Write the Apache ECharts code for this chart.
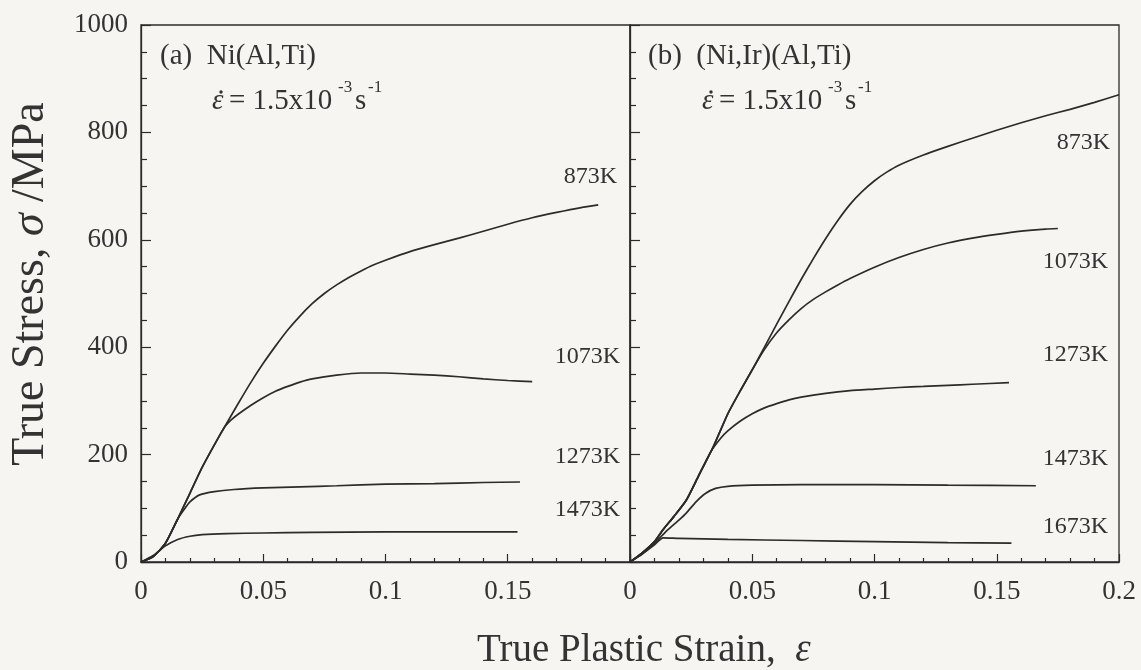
<!DOCTYPE html>
<html>
<head>
<meta charset="utf-8">
<script src="https://cdn.jsdelivr.net/npm/echarts@6/dist/echarts.min.js"></script>
<style>
  html, body { margin: 0; padding: 0; background: #f6f5f1; }
  #chart { width: 1141px; height: 670px; }
</style>
</head>
<body>
<div id="chart"></div>
<script>
// axis ticks
const strainTicks = [0, 0.05, 0.1, 0.15, 0.2]
const stressTicks = [0, 200, 400, 600, 800, 1000]

// (a) Ni(Al,Ti)  -- [strain, stress MPa]
const a873 = [[0,0],[0.005,10],[0.01,35],[0.015,80],[0.02,128],[0.025,176],[0.03,218],[0.035,258],[0.04,297],[0.045,335],[0.05,370],[0.055,402],[0.06,432],[0.065,458],[0.07,481],[0.075,500],[0.08,516],[0.085,530],[0.09,542],[0.095,553],[0.1,562],[0.11,578],[0.12,591],[0.13,603],[0.14,616],[0.15,629],[0.16,641],[0.17,651],[0.18,660],[0.187,665]]
const a1073 = [[0,0],[0.005,10],[0.01,35],[0.015,80],[0.02,128],[0.025,176],[0.03,218],[0.034,250],[0.037,265],[0.04,276],[0.045,292],[0.05,306],[0.055,318],[0.06,327],[0.065,335],[0.07,341],[0.08,348],[0.09,352],[0.1,352],[0.11,350],[0.12,348],[0.13,345],[0.14,341],[0.15,338],[0.16,336]]
const a1273 = [[0,0],[0.005,10],[0.01,35],[0.015,80],[0.018,100],[0.02,112],[0.024,125],[0.03,131],[0.038,135],[0.05,138],[0.065,140],[0.08,142],[0.1,145],[0.12,146],[0.14,148],[0.155,149]]
const a1473 = [[0,0],[0.005,12],[0.01,30],[0.015,42],[0.02,48],[0.025,51],[0.035,53],[0.05,54],[0.07,55],[0.1,56],[0.13,56],[0.154,56]]

// (b) (Ni,Ir)(Al,Ti)
const b873 = [[0,0],[0.005,17],[0.01,38],[0.0135,60],[0.018,85],[0.023,115],[0.028,160],[0.034,214],[0.04,276],[0.045,318],[0.05,358],[0.055,400],[0.06,443],[0.065,485],[0.07,526],[0.075,565],[0.08,602],[0.085,636],[0.09,666],[0.095,690],[0.1,710],[0.105,726],[0.11,739],[0.12,758],[0.13,774],[0.14,789],[0.15,804],[0.16,818],[0.17,831],[0.18,843],[0.19,856],[0.2,870]]
const b1073 = [[0,0],[0.005,17],[0.01,38],[0.0135,60],[0.018,85],[0.023,115],[0.028,160],[0.034,214],[0.04,276],[0.045,318],[0.05,358],[0.055,396],[0.06,427],[0.065,451],[0.07,472],[0.075,489],[0.08,503],[0.085,516],[0.09,528],[0.1,549],[0.11,567],[0.12,582],[0.13,594],[0.14,603],[0.15,610],[0.16,616],[0.17,620],[0.175,621]]
const b1273 = [[0,0],[0.005,17],[0.01,38],[0.0135,60],[0.018,85],[0.023,115],[0.028,160],[0.033,205],[0.037,230],[0.04,244],[0.045,262],[0.05,276],[0.055,287],[0.06,295],[0.065,302],[0.07,307],[0.08,314],[0.09,319],[0.1,322],[0.11,325],[0.12,327],[0.13,329],[0.14,331],[0.155,334]]
const b1473 = [[0,0],[0.005,15],[0.01,35],[0.015,58],[0.02,78],[0.023,91],[0.027,112],[0.031,128],[0.035,137],[0.04,141],[0.05,143],[0.07,144],[0.1,144],[0.13,143],[0.166,142]]
const b1673 = [[0,0],[0.005,15],[0.01,32],[0.0135,45],[0.02,44],[0.04,42],[0.07,40],[0.1,38],[0.13,36],[0.156,35]]

const tempsA = ['873K', '1073K', '1273K', '1473K']
const tempsB = ['873K', '1073K', '1273K', '1473K', '1673K']

const FONT = "'Liberation Serif', 'Times New Roman', serif"
const INK = '#2b2b2b'
const TXT = '#333'

const chart = echarts.init(document.getElementById('chart'))

function xAxisFor(grid, hideLast) {
  return {
    type: 'value',
    gridIndex: grid,
    min: strainTicks[0],
    max: strainTicks[strainTicks.length - 1],
    interval: strainTicks[1] - strainTicks[0],
    axisLine: { lineStyle: { color: INK, width: 1.3 } },
    axisTick: { inside: true, length: 8, lineStyle: { color: INK, width: 1.2 } },
    minorTick: { show: true, splitNumber: 5, length: 4, lineStyle: { color: INK, width: 1.2 } },
    splitLine: { show: false },
    axisLabel: {
      margin: 16,
      fontFamily: FONT,
      fontSize: 27,
      color: TXT,
      formatter: v => (hideLast && v >= 0.2 - 1e-9) ? '' : String(+v.toFixed(2))
    }
  }
}

function yAxisFor(grid, showLabels) {
  return {
    type: 'value',
    gridIndex: grid,
    min: stressTicks[0],
    max: stressTicks[stressTicks.length - 1],
    interval: stressTicks[1] - stressTicks[0],
    axisLine: { show: true, lineStyle: { color: INK, width: 1.3 } },
    axisTick: { inside: true, length: 10, lineStyle: { color: INK, width: 1.2 } },
    minorTick: { show: true, splitNumber: 4, length: 6, lineStyle: { color: INK, width: 1.2 } },
    splitLine: { show: false },
    axisLabel: {
      show: showLabels,
      margin: 13,
      fontFamily: FONT,
      fontSize: 27,
      color: TXT,
      formatter: v => String(v)
    }
  }
}

function curve(data, idx) {
  return {
    type: 'line',
    data: data,
    xAxisIndex: idx,
    yAxisIndex: idx,
    showSymbol: false,
    symbol: 'none',
    smooth: 0.2,
    lineStyle: { color: INK, width: 1.7 },
    silent: true
  }
}

function label(text, right, y) {
  return {
    type: 'text',
    x: right,
    y: y,
    style: { text: text, fontFamily: FONT, fontSize: 24, fill: TXT, align: 'right', verticalAlign: 'middle' }
  }
}

function plain(text, x, y, size, extra) {
  return {
    type: 'text',
    x: x,
    y: y,
    style: Object.assign({ text: text, fontFamily: FONT, fontSize: size, fill: TXT, verticalAlign: 'middle' }, extra || {})
  }
}

// strain-rate note; y is the middle of the main text
function rateText(x, y) {
  return [
    plain('ε', x, y, 29, { fontStyle: 'italic' }),
    { type: 'circle', shape: { cx: x + 9, cy: y - 9, r: 1.7 }, style: { fill: TXT } },
    plain('= 1.5x10', x + 17, y, 29),
    plain('-3', x + 126, y - 13, 17),
    plain('s', x + 143, y, 29),
    plain('-1', x + 156, y - 13, 17)
  ]
}

const labelPosA = [[617, 177], [620, 357], [620, 457], [620, 510]]
const labelPosB = [[1110, 143], [1108, 262], [1108, 355], [1108, 459], [1108, 527]]

chart.setOption({
  backgroundColor: '#f6f5f1',
  animation: false,
  grid: [
    { left: 141, top: 25, width: 489, height: 537, show: true, borderColor: INK, borderWidth: 1.3 },
    { left: 630, top: 25, width: 489, height: 537, show: true, borderColor: INK, borderWidth: 1.3 }
  ],
  xAxis: [xAxisFor(0, true), xAxisFor(1, false)],
  yAxis: [yAxisFor(0, true), yAxisFor(1, false)],
  series: [
    curve(a873, 0), curve(a1073, 0), curve(a1273, 0), curve(a1473, 0),
    curve(b873, 1), curve(b1073, 1), curve(b1273, 1), curve(b1473, 1), curve(b1673, 1)
  ],
  graphic: [
    plain('(a)  Ni(Al,Ti)', 160, 56, 29),
    plain('(b)  (Ni,Ir)(Al,Ti)', 648, 56, 29),
    ...rateText(212, 101),
    ...rateText(702, 101),
    ...tempsA.map((t, i) => label(t, labelPosA[i][0], labelPosA[i][1])),
    ...tempsB.map((t, i) => label(t, labelPosB[i][0], labelPosB[i][1])),
    {
      type: 'text', x: 31, y: 284, rotation: Math.PI / 2,
      style: {
        text: '{n|True Stress, }{g|σ}{n| /MPa}',
        align: 'center', verticalAlign: 'middle',
        rich: {
          n: { fontFamily: FONT, fontSize: 46, fill: TXT },
          g: { fontFamily: FONT, fontSize: 46, fontStyle: 'italic', fill: TXT }
        }
      }
    },
    {
      type: 'text', x: 477, y: 651,
      style: {
        text: '{n|True Plastic Strain,  }{g|ε}',
        verticalAlign: 'middle',
        rich: {
          n: { fontFamily: FONT, fontSize: 39, fill: TXT },
          g: { fontFamily: FONT, fontSize: 39, fontStyle: 'italic', fill: TXT }
        }
      }
    }
  ]
})
</script>
</body>
</html>
